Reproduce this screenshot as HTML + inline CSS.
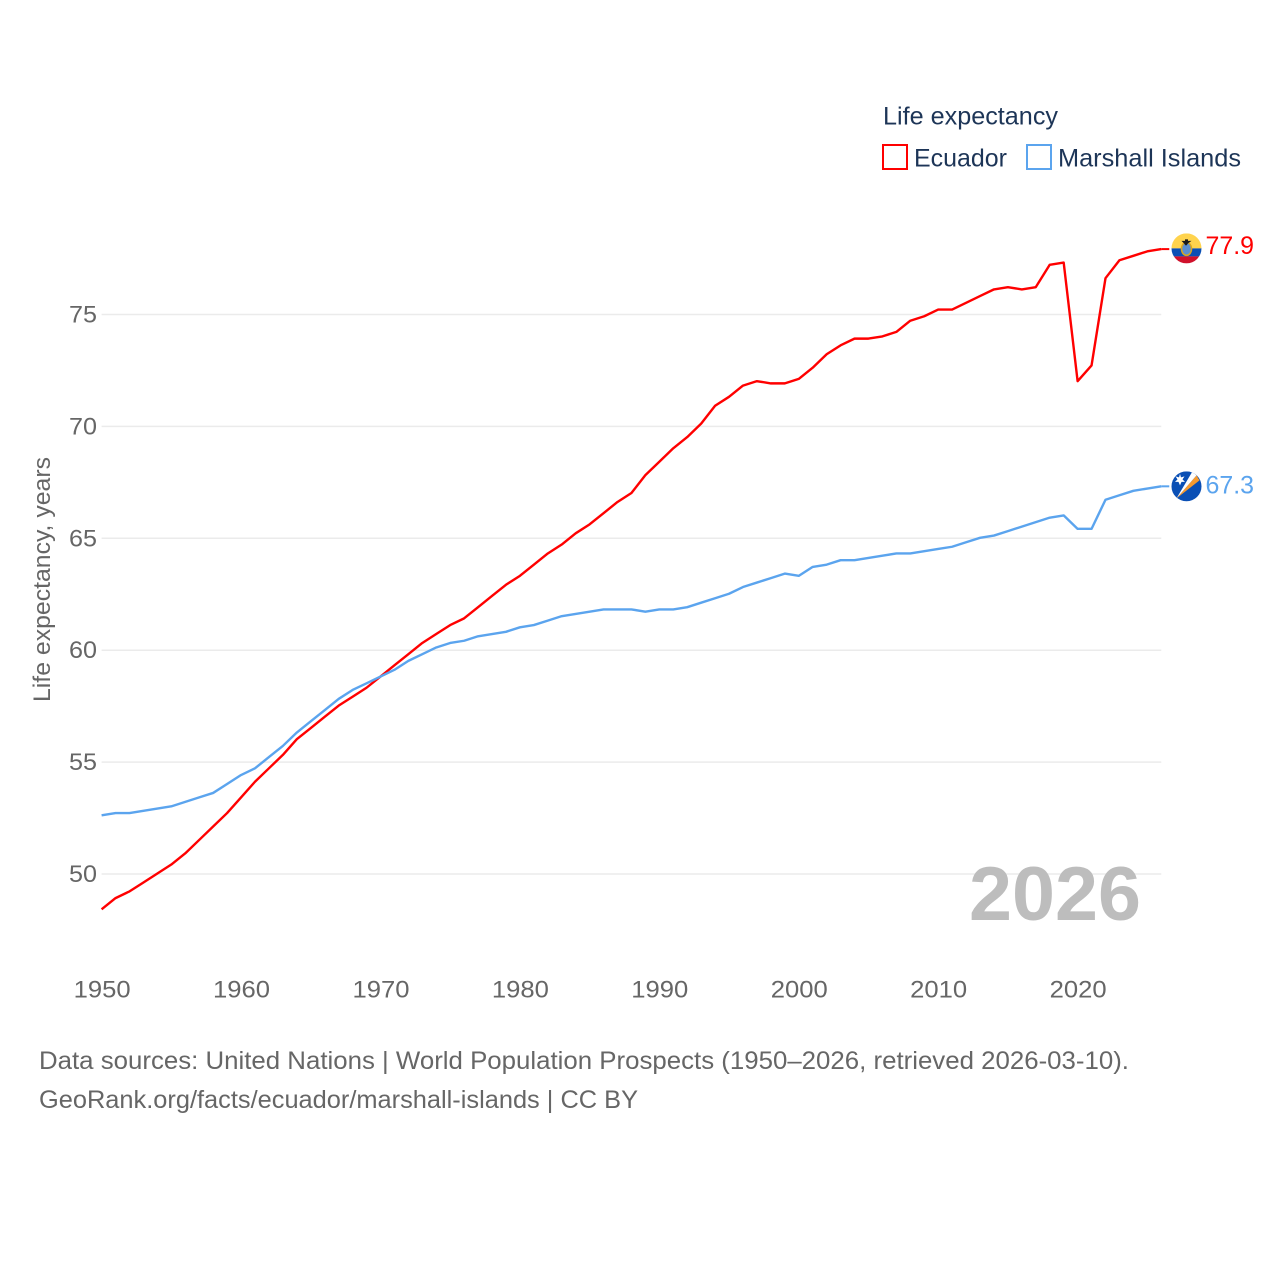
<!DOCTYPE html>
<html>
<head>
<meta charset="utf-8">
<title>Life expectancy: Ecuador and Marshall Islands</title>
<style>
html,body{margin:0;padding:0;background:#fff;width:1280px;height:1280px;overflow:hidden}
svg{display:block}
text{font-family:"Liberation Sans",sans-serif}
</style>
</head>
<body>
<svg id="chart" xmlns="http://www.w3.org/2000/svg" width="1280" height="1280" viewBox="0 0 1280 1280">
  <defs>
    <clipPath id="clip-ec"><circle id="clip-ec-c" r="15"></circle></clipPath>
    <clipPath id="clip-mh"><circle id="clip-mh-c" r="15"></circle></clipPath>
  </defs>
  <g id="grid"></g>
  <g id="yticks"></g>
  <g id="xticks"></g>
  <text transform="translate(50,702) rotate(-90)" font-size="24" fill="#666" textLength="245" lengthAdjust="spacingAndGlyphs">Life expectancy, years</text>
  <text x="969" y="920" font-size="76" font-weight="700" fill="#bdbdbd" textLength="172" lengthAdjust="spacingAndGlyphs">2026</text>
  <g id="series"></g>
  <g id="flag-ec" clip-path="url(#clip-ec)"></g>
  <g id="flag-mh" clip-path="url(#clip-mh)"></g>
  <g id="end-labels"></g>

  <g>
    <text x="883" y="124.5" font-size="25" fill="#1d3557" textLength="175" lengthAdjust="spacingAndGlyphs">Life expectancy</text>
    <g>
      <rect x="883" y="145" width="24" height="24" fill="#fff" stroke="#ff0000" stroke-width="2"></rect>
      <text x="914" y="166.5" font-size="25" fill="#1d3557" textLength="93" lengthAdjust="spacingAndGlyphs">Ecuador</text>
    </g>
    <g>
      <rect x="1027" y="145" width="24" height="24" fill="#fff" stroke="#5ba4ee" stroke-width="2"></rect>
      <text x="1058" y="166.5" font-size="25" fill="#1d3557" textLength="183" lengthAdjust="spacingAndGlyphs">Marshall Islands</text>
    </g>
  </g>

  <g>
    <text x="39" y="1069" font-size="25" fill="#666" textLength="1090" lengthAdjust="spacingAndGlyphs">Data sources: United Nations | World Population Prospects (1950–2026, retrieved 2026-03-10).</text>
    <text x="39" y="1108" font-size="25" fill="#666" textLength="599" lengthAdjust="spacingAndGlyphs">GeoRank.org/facts/ecuador/marshall-islands | CC BY</text>
  </g>
</svg>
<script>
const startYear = 1950;
const xTickYears = [1950, 1960, 1970, 1980, 1990, 2000, 2010, 2020];
const yTickValues = [50, 55, 60, 65, 70, 75];
const ecuadorValues = [
  48.4, 48.9, 49.2, 49.6, 50.0, 50.4, 50.9, 51.5, 52.1, 52.7,
  53.4, 54.1, 54.7, 55.3, 56.0, 56.5, 57.0, 57.5, 57.9, 58.3,
  58.8, 59.3, 59.8, 60.3, 60.7, 61.1, 61.4, 61.9, 62.4, 62.9,
  63.3, 63.8, 64.3, 64.7, 65.2, 65.6, 66.1, 66.6, 67.0, 67.8,
  68.4, 69.0, 69.5, 70.1, 70.9, 71.3, 71.8, 72.0, 71.9, 71.9,
  72.1, 72.6, 73.2, 73.6, 73.9, 73.9, 74.0, 74.2, 74.7, 74.9,
  75.2, 75.2, 75.5, 75.8, 76.1, 76.2, 76.1, 76.2, 77.2, 77.3,
  72.0, 72.7, 76.6, 77.4, 77.6, 77.8, 77.9
];
const marshallValues = [
  52.6, 52.7, 52.7, 52.8, 52.9, 53.0, 53.2, 53.4, 53.6, 54.0,
  54.4, 54.7, 55.2, 55.7, 56.3, 56.8, 57.3, 57.8, 58.2, 58.5,
  58.8, 59.1, 59.5, 59.8, 60.1, 60.3, 60.4, 60.6, 60.7, 60.8,
  61.0, 61.1, 61.3, 61.5, 61.6, 61.7, 61.8, 61.8, 61.8, 61.7,
  61.8, 61.8, 61.9, 62.1, 62.3, 62.5, 62.8, 63.0, 63.2, 63.4,
  63.3, 63.7, 63.8, 64.0, 64.0, 64.1, 64.2, 64.3, 64.3, 64.4,
  64.5, 64.6, 64.8, 65.0, 65.1, 65.3, 65.5, 65.7, 65.9, 66.0,
  65.4, 65.4, 66.7, 66.9, 67.1, 67.2, 67.3
];

const NS = 'http://www.w3.org/2000/svg';
const RED = '#ff0000';
const BLUE = '#5ba4ee';
function xScale(year) { return 101.6 + (year - 1950) * 13.943; }
function yScale(v) { return 873.5 - (v - 50) * 22.38; }
function make(tag, attrs, parent, txt) {
  const el = document.createElementNS(NS, tag);
  for (const k in attrs) el.setAttribute(k, attrs[k]);
  if (txt !== undefined) el.textContent = txt;
  parent.appendChild(el);
  return el;
}
const gridG = document.getElementById('grid');
const yG = document.getElementById('yticks');
const xG = document.getElementById('xticks');
const seriesG = document.getElementById('series');
const endG = document.getElementById('end-labels');
const lastYear = startYear + ecuadorValues.length - 1;

yTickValues.forEach(function (v) {
  const g = make('line', {x1: xScale(startYear), x2: xScale(lastYear), y1: yScale(v) + 0.5, y2: yScale(v) + 0.5, stroke: '#ebebeb', 'stroke-width': 1.5}, gridG);
  
  
  const t = make('text', {x: 69, y: yScale(v) + 8.5, 'font-size': 24.5, fill: '#666', textLength: 28, lengthAdjust: 'spacingAndGlyphs'}, yG, String(v));
  
  
});
xTickYears.forEach(function (yr) {
  const t = make('text', {x: xScale(yr) - 28, y: 997.5, 'font-size': 24.5, fill: '#666', textLength: 57, lengthAdjust: 'spacingAndGlyphs'}, xG, String(yr));
  
  
});

function drawSeries(values, color, key, labelOffset) {
  const pts = values.map(function (v, i) { return xScale(startYear + i).toFixed(2) + ',' + yScale(v).toFixed(2); }).join(' ');
  const line = make('polyline', {points: pts, fill: 'none', stroke: color, 'stroke-width': 2.4, 'stroke-linejoin': 'round'}, seriesG);
  
  
  const last = values[values.length - 1];
  const ey = yScale(last);
  const conn = make('line', {x1: xScale(lastYear), x2: xScale(lastYear) + 8, y1: ey, y2: ey, stroke: color, 'stroke-width': 2}, seriesG);
  
  
  const lab = make('text', {x: 1205.5, y: ey + labelOffset, 'font-size': 25, fill: color, textLength: 48.5, lengthAdjust: 'spacingAndGlyphs'}, endG, last.toFixed(1));
  
  
  return ey;
}
const ecY = drawSeries(ecuadorValues, RED, 'ecuador', 5) - 0.7;
const mhY = drawSeries(marshallValues, BLUE, 'marshall-islands', 7) + 0;
const fx = 1186.5;

const cec = document.getElementById('clip-ec-c');
cec.setAttribute('cx', fx);
cec.setAttribute('cy', ecY);
const fe = document.getElementById('flag-ec');
make('rect', {x: fx - 15, y: ecY - 15, width: 30, height: 15, fill: '#ffd34d'}, fe);
make('rect', {x: fx - 15, y: ecY, width: 30, height: 8, fill: '#0a4fb5'}, fe);
make('rect', {x: fx - 15, y: ecY + 8, width: 30, height: 7, fill: '#d0112b'}, fe);
make('ellipse', {cx: fx, cy: ecY + 0.5, rx: 5, ry: 6.5, fill: '#5b8fd0', stroke: '#d9a520', 'stroke-width': 1.5}, fe);
make('path', {d: 'M' + (fx - 5) + ' ' + (ecY - 7.5) + 'h10l-3.5 2.5l-1.5 2h-1l-1.5 -2z M' + (fx - 1.5) + ' ' + (ecY - 9) + 'h3v2h-3z', fill: '#1a1a1a'}, fe);

const cmh = document.getElementById('clip-mh-c');
cmh.setAttribute('cx', fx);
cmh.setAttribute('cy', mhY);
const fm = document.getElementById('flag-mh');
make('rect', {x: fx - 15, y: mhY - 15, width: 30, height: 30, fill: '#0a4fb5'}, fm);
make('path', {d: 'M' + (fx - 10) + ' ' + (mhY + 12) + 'L' + (fx + 10) + ' ' + (mhY - 11) + 'L' + (fx + 13) + ' ' + (mhY - 6) + 'Z', fill: '#f79a2e'}, fm);
make('path', {d: 'M' + (fx - 10) + ' ' + (mhY + 12) + 'L' + (fx + 6) + ' ' + (mhY - 15) + 'L' + (fx + 10) + ' ' + (mhY - 11) + 'Z', fill: '#ffffff'}, fm);
make('path', {d: 'M' + (fx - 6.5) + ' ' + (mhY - 12.5) + 'l1 3.5l3.5 -1l-2 3l2.5 2.5l-3.5 0l-1.5 3.5l-1.5 -3.5l-3.5 0l2.5 -2.5l-2 -3l3.5 1z', fill: '#ffffff'}, fm);
</script>
</body>
</html>
